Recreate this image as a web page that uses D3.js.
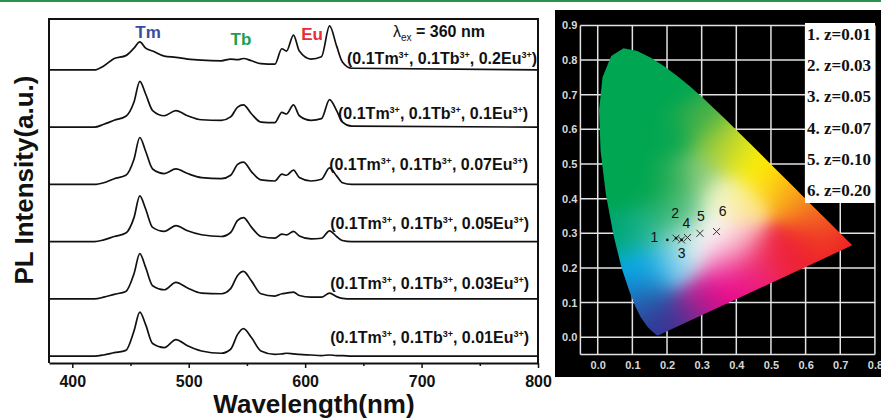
<!DOCTYPE html>
<html>
<head>
<meta charset="utf-8">
<script src="https://cdn.jsdelivr.net/npm/d3@7"></script>
<style>
	body { margin: 0; background: #fff; }
	svg { display: block; font-family: 'Liberation Sans', Arial, sans-serif; }
</style>
</head>
<body>
<div id="chart"></div>
<script>
/* global d3 */

// PL spectra (lambda_ex = 360 nm), intensities in a.u.
var wavelengths = [380, 419, 427, 436, 446, 453, 458, 463, 469, 479, 489, 499, 511, 528, 536, 542, 547, 554, 562, 574, 580, 584, 590, 595, 605, 614, 621, 627, 632, 640, 800];
var specEu020 = [0, 0, 7, 20, 25, 38, 49, 38, 33, 24, 22, 19, 17, 16, 19, 18, 20, 16, 11, 10, 37, 33, 61, 33, 19, 23, 77, 42, 14, 3, 0];
var specEu010 = [0, 0, 5, 12, 19, 44, 80, 58, 29, 20, 29, 20, 13, 12, 18, 35, 39, 23, 9, 8, 26, 23, 39, 20, 12, 15, 48, 29, 9, 2, 0];
var specEu007 = [0, 0, 3, 10, 16, 44, 82, 58, 27, 19, 27, 19, 12, 10, 16, 35, 39, 22, 8, 6, 18, 16, 25, 12, 6, 9, 29, 15, 3, 0, 0];
var specEu005 = [0, 0, 3, 9, 15, 42, 80, 57, 25, 18, 28, 19, 12, 9, 16, 37, 42, 25, 9, 6, 13, 12, 18, 10, 5, 6, 19, 9, 2, 0, 0];
var specEu003 = [0, 0, 3, 8, 13, 44, 79, 55, 23, 16, 29, 19, 10, 9, 18, 41, 48, 31, 9, 5, 9, 10, 12, 6, 3, 3, 10, 4, 1, 0, 0];
var specEu001 = [0, 0, 2, 6, 10, 44, 77, 55, 22, 15, 29, 18, 9, 5, 12, 38, 48, 32, 9, 3, 4, 5, 4, 3, 2, 1, 2, 1, 1, 0, 0];
var spectra = [specEu020, specEu010, specEu007, specEu005, specEu003, specEu001];
var euLevels = ['0.2', '0.1', '0.07', '0.05', '0.03', '0.01'];
var stackOffsets = [500, 400, 300, 200, 100, 0];
var xTicks = [400, 500, 600, 700, 800];
var xMinorTicks = [450, 550, 650, 750];

// CIE 1931 diagram
var locusX = [0.1741, 0.1689, 0.1644, 0.1566, 0.1440, 0.1241, 0.1096, 0.0913, 0.0687, 0.0454, 0.0235, 0.0082, 0.0039, 0.0139, 0.0389, 0.0743, 0.1142, 0.1547, 0.1929, 0.2296, 0.2658, 0.3016, 0.3373, 0.3731, 0.4087, 0.4441, 0.4788, 0.5125, 0.5448, 0.5752, 0.6029, 0.6270, 0.6482, 0.6658, 0.6801, 0.6915, 0.7079, 0.7190, 0.7260, 0.7347];
var locusY = [0.0050, 0.0069, 0.0109, 0.0177, 0.0297, 0.0578, 0.0868, 0.1327, 0.2007, 0.2950, 0.4127, 0.5384, 0.6548, 0.7502, 0.8120, 0.8338, 0.8262, 0.8059, 0.7816, 0.7543, 0.7243, 0.6923, 0.6589, 0.6245, 0.5896, 0.5547, 0.5202, 0.4866, 0.4544, 0.4242, 0.3965, 0.3725, 0.3514, 0.3340, 0.3197, 0.3083, 0.2920, 0.2809, 0.2740, 0.2653];
var cieTicksX = [0, 0.1, 0.2, 0.3, 0.4, 0.5, 0.6, 0.7, 0.8];
var cieTicksY = [0, 0.1, 0.2, 0.3, 0.4, 0.5, 0.6, 0.7, 0.8, 0.9];
var cieNames = ['1', '2', '3', '4', '5', '6'];
var cieX = [0.201, 0.226, 0.242, 0.259, 0.295, 0.343];
var cieY = [0.281, 0.286, 0.281, 0.288, 0.300, 0.305];
var legendLabels = ['1. z=0.01', '2. z=0.03', '3. z=0.05', '4. z=0.07', '5. z=0.10', '6. z=0.20'];

// colours sampled from the diagram fill: [x, y, colour]
var gamutStops = [
	[0.07, 0.82, '#00a651'], [0.02, 0.68, '#00a651'], [0.12, 0.70, '#00a651'], [0.22, 0.72, '#00a651'],
	[0.02, 0.55, '#00a651'], [0.12, 0.57, '#00a651'], [0.22, 0.58, '#03a651'], [0.29, 0.62, '#3fae49'],
	[0.04, 0.42, '#00a651'], [0.13, 0.45, '#00a651'], [0.22, 0.46, '#22ab53'], [0.29, 0.47, '#8fcd80'],
	[0.34, 0.56, '#9ccb3b'], [0.40, 0.53, '#d7df23'], [0.46, 0.49, '#fff200'], [0.51, 0.45, '#fdd20f'],
	[0.56, 0.41, '#f9a11b'], [0.61, 0.36, '#f47b20'], [0.66, 0.32, '#f15a24'], [0.72, 0.27, '#ed1c24'],
	[0.62, 0.28, '#ee2228'], [0.54, 0.25, '#ee2238'], [0.47, 0.23, '#ee2a5c'], [0.41, 0.28, '#f9c0d4'],
	[0.42, 0.38, '#fde98a'], [0.36, 0.40, '#f4f8d0'], [0.34, 0.31, '#ffffff'], [0.28, 0.27, '#ffffff'],
	[0.36, 0.22, '#f38bbd'], [0.37, 0.15, '#ec008c'], [0.43, 0.17, '#ec1c7f'], [0.30, 0.11, '#c2188f'],
	[0.25, 0.06, '#662d91'], [0.19, 0.03, '#2e3192'], [0.16, 0.08, '#2c4fa3'], [0.14, 0.14, '#1c75bc'],
	[0.12, 0.20, '#00aeef'], [0.18, 0.21, '#1fb0ea'], [0.23, 0.21, '#a8dcf3'], [0.07, 0.30, '#00a678'],
	[0.14, 0.30, '#20b48c'], [0.20, 0.35, '#14aa5a'], [0.25, 0.36, '#6cc58a'], [0.22, 0.28, '#8cd6d0']
];

var svg = d3.select('#chart').append('svg')
	.attr('width', 881)
	.attr('height', 418);

svg.append('rect').attr('width', 881).attr('height', 418).attr('fill', '#fff');
svg.append('line')
	.attr('x1', 0).attr('x2', 881).attr('y1', 1).attr('y2', 1)
	.attr('stroke', '#2b9348').attr('stroke-width', 2);

// ---------- left: stacked spectra ----------

var x = d3.scaleLinear().domain([380, 800]).range([49, 538]);
var y = d3.scaleLinear().domain([-12, 589]).range([363, 19]);

var line = d3.line()
	.curve(d3.curveMonotoneX)
	.x(function (d) { return x(d[0]); })
	.y(function (d) { return y(d[1]); });

var left = svg.append('g');

spectra.forEach(function (spec, i) {
	left.append('path')
		.datum(wavelengths.map(function (w, k) { return [w, spec[k] + stackOffsets[i]]; }))
		.attr('d', line)
		.attr('fill', 'none')
		.attr('stroke', '#111')
		.attr('stroke-width', 1.7)
		.attr('stroke-linejoin', 'round');
});

left.append('path')
	.attr('d', 'M' + x(380) + ',' + y(-12) + 'V' + y(589) + 'H' + x(800) + 'V' + y(-12))
	.attr('fill', 'none')
	.attr('stroke', '#111')
	.attr('stroke-width', 2);

var xAxis = left.append('g')
	.attr('transform', 'translate(0,' + y(-12) + ')')
	.call(d3.axisBottom(x).tickValues(xTicks).tickSize(5).tickPadding(8).tickSizeOuter(0));
xAxis.select('.domain').attr('stroke', '#111').attr('stroke-width', 2);
xAxis.selectAll('.tick line').attr('stroke', '#111').attr('stroke-width', 1.5);
xAxis.selectAll('.tick text')
	.attr('fill', '#111')
	.style('font-family', "'Liberation Sans', Arial, sans-serif")
	.style('font-size', '16px')
	.style('font-weight', 'bold');

var xMinor = left.append('g')
	.attr('transform', 'translate(0,' + y(-12) + ')')
	.call(d3.axisBottom(x).tickValues(xMinorTicks).tickSize(3).tickFormat(''));
xMinor.select('.domain').remove();
xMinor.selectAll('.tick line').attr('stroke', '#111').attr('stroke-width', 1.5);

left.append('text')
	.attr('x', 314)
	.attr('y', 413)
	.attr('text-anchor', 'middle')
	.style('font-size', '26px')
	.style('font-weight', 'bold')
	.attr('fill', '#111')
	.text('Wavelength(nm)');

left.append('text')
	.attr('transform', 'translate(33,180) rotate(-90)')
	.attr('text-anchor', 'middle')
	.style('font-size', '26px')
	.style('font-weight', 'bold')
	.attr('fill', '#111')
	.text('PL Intensity(a.u.)');

// ion labels above the top curve
var ionLabels = [
	{text: 'Tm', x: 148, y: 38, color: '#3b4aa3'},
	{text: 'Tb', x: 241, y: 45, color: '#1a9f4b'},
	{text: 'Eu', x: 312, y: 40, color: '#ea2a35'}
];
left.selectAll('.ion')
	.data(ionLabels)
	.enter().append('text')
		.attr('class', 'ion')
		.attr('x', function (d) { return d.x; })
		.attr('y', function (d) { return d.y; })
		.attr('text-anchor', 'middle')
		.attr('fill', function (d) { return d.color; })
		.style('font-size', '17px')
		.style('font-weight', 'bold')
		.text(function (d) { return d.text; });

var lam = left.append('text')
	.attr('x', 393)
	.attr('y', 37)
	.attr('fill', '#111')
	.style('font-size', '16px')
	.style('font-weight', 'bold');
lam.append('tspan').style('font-weight', 'normal').text('λ');
lam.append('tspan').attr('dy', 4).style('font-size', '10px').style('font-weight', 'normal').text('ex');
lam.append('tspan').attr('dy', -4).text(' = 360 nm');

// sample labels
var labelRight = [537, 528, 528, 529, 529, 529];
var labelBase = [64, 119, 170, 229, 289, 343];

euLevels.forEach(function (eu, i) {
	var t = left.append('text')
		.attr('x', labelRight[i])
		.attr('y', labelBase[i])
		.attr('text-anchor', 'end')
		.attr('fill', '#111')
		.style('font-size', '16px')
		.style('font-weight', 'bold');
	var parts = ['(0.1Tm', ', 0.1Tb', ', ' + eu + 'Eu'];
	parts.forEach(function (p, k) {
		t.append('tspan').attr('dy', k === 0 ? 0 : 6).text(p);
		t.append('tspan').attr('dy', -6).style('font-size', '9px').text('3+');
	});
	t.append('tspan').attr('dy', 6).text(')');
});

// ---------- right: CIE chromaticity diagram ----------

var right = svg.append('g');
right.append('rect')
	.attr('x', 555).attr('y', 10)
	.attr('width', 326).attr('height', 367)
	.attr('fill', '#000');

var cx = d3.scaleLinear().domain([-0.05, 0.8]).range([580.4, 874.9]);
var cy = d3.scaleLinear().domain([-0.05, 0.9]).range([354.6, 25.4]);

var gridColor = '#e2e2e2';
right.selectAll('.vgrid')
	.data([-0.05].concat(cieTicksX))
	.enter().append('line')
		.attr('x1', function (d) { return cx(d); })
		.attr('x2', function (d) { return cx(d); })
		.attr('y1', cy(-0.05))
		.attr('y2', cy(0.9))
		.attr('stroke', gridColor)
		.attr('stroke-width', 1.5);
right.selectAll('.hgrid')
	.data([-0.05].concat(cieTicksY))
	.enter().append('line')
		.attr('x1', cx(-0.05))
		.attr('x2', cx(0.8))
		.attr('y1', function (d) { return cy(d); })
		.attr('y2', function (d) { return cy(d); })
		.attr('stroke', gridColor)
		.attr('stroke-width', 1.5);

var fmt = d3.format('.1f');
var cAxisX = right.append('g')
	.attr('transform', 'translate(0,' + cy(-0.05) + ')')
	.call(d3.axisBottom(cx).tickValues(cieTicksX).tickSize(0).tickPadding(7).tickFormat(fmt));
var cAxisY = right.append('g')
	.attr('transform', 'translate(' + cx(-0.05) + ',0)')
	.call(d3.axisLeft(cy).tickValues(cieTicksY).tickSize(0).tickPadding(3).tickFormat(fmt));
[cAxisX, cAxisY].forEach(function (a) {
	a.select('.domain').remove();
	a.selectAll('.tick text')
		.attr('fill', '#d8d8d8')
		.style('font-family', "'Liberation Sans', Arial, sans-serif")
		.style('font-size', '11px')
		.style('font-weight', 'bold');
});

// gamut fill, painted on a canvas and clipped to the spectral locus
var locus = locusX.map(function (lx, i) { return [lx, locusY[i]]; });
var locusLine = d3.line()
	.x(function (d) { return cx(d[0]); })
	.y(function (d) { return cy(d[1]); });

right.append('clipPath')
	.attr('id', 'locus')
	.append('path')
		.attr('d', locusLine(locus) + 'Z');

(function paintGamut() {
	var x0 = Math.floor(cx(-0.05)), x1 = Math.ceil(cx(0.8));
	var y0 = Math.floor(cy(0.9)), y1 = Math.ceil(cy(-0.05));
	var w = x1 - x0, h = y1 - y0;
	var canvas = document.createElement('canvas');
	canvas.width = w;
	canvas.height = h;
	var ctx = canvas.getContext('2d');
	var img = ctx.createImageData(w, h);
	var stops = gamutStops.map(function (s) {
		var c = d3.rgb(s[2]);
		return {x: s[0], y: s[1], r: c.r, g: c.g, b: c.b};
	});
	var s2 = 2 * 0.045 * 0.045;
	for (var j = 0; j < h; j++) {
		var v = cy.invert(y0 + j + 0.5);
		for (var i = 0; i < w; i++) {
			var u = cx.invert(x0 + i + 0.5);
			var sw = 0, r = 0, g = 0, b = 0;
			for (var k = 0; k < stops.length; k++) {
				var dx = u - stops[k].x, dy = v - stops[k].y;
				var wt = Math.exp(-(dx * dx + dy * dy) / s2) + 1e-12;
				sw += wt;
				r += wt * stops[k].r;
				g += wt * stops[k].g;
				b += wt * stops[k].b;
			}
			var p = (j * w + i) * 4;
			img.data[p] = r / sw;
			img.data[p + 1] = g / sw;
			img.data[p + 2] = b / sw;
			img.data[p + 3] = 255;
		}
	}
	ctx.putImageData(img, 0, 0);
	right.append('image')
		.attr('x', x0).attr('y', y0)
		.attr('width', w).attr('height', h)
		.attr('href', canvas.toDataURL())
		.attr('clip-path', 'url(#locus)');
})();

// sample coordinates
var labelOffset = [[-13, -3], [-1, -25], [0, 13], [-1, -14], [1, -17], [6, -20]];
var pts = right.selectAll('.pt')
	.data(cieNames)
	.enter().append('g')
		.attr('class', 'pt')
		.attr('transform', function (d, i) { return 'translate(' + cx(cieX[i]) + ',' + cy(cieY[i]) + ')'; });

pts.filter(function (d, i) { return i > 0; })
	.append('path')
		.attr('d', 'M-3.5,-3.5L3.5,3.5M-3.5,3.5L3.5,-3.5')
		.attr('stroke', '#333')
		.attr('stroke-width', 1);
pts.filter(function (d, i) { return i < 3; })
	.append('circle')
		.attr('r', 1.3)
		.attr('fill', '#111');
pts.append('text')
	.attr('x', function (d, i) { return labelOffset[i][0]; })
	.attr('y', function (d, i) { return labelOffset[i][1]; })
	.attr('text-anchor', 'middle')
	.attr('dy', '0.35em')
	.attr('fill', '#111')
	.style('font-size', '14px')
	.text(function (d) { return d; });

// legend box
var legend = right.append('g');
legend.append('rect')
	.attr('x', 805).attr('y', 23)
	.attr('width', 70).attr('height', 180)
	.attr('fill', '#fff');
legend.selectAll('text')
	.data(legendLabels)
	.enter().append('text')
		.attr('x', 807)
		.attr('y', function (d, i) { return 40 + i * 31.2; })
		.attr('fill', '#111')
		.style('font-family', "'Liberation Serif', 'Times New Roman', serif")
		.style('font-size', '17px')
		.style('font-weight', 'bold')
		.text(function (d) { return d; });
</script>
</body>
</html>
